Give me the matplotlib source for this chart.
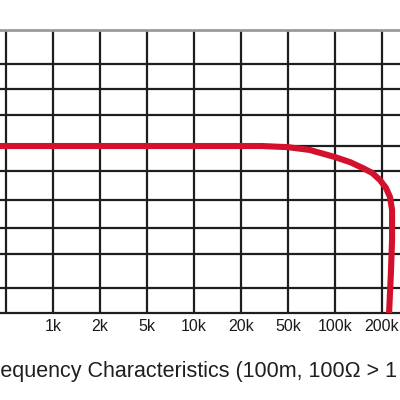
import numpy as np
import matplotlib
matplotlib.use("Agg")
import matplotlib.pyplot as plt
from matplotlib.ticker import NullLocator

# ---- data ----
tick_freqs = [500, 1000, 2000, 5000, 10000, 20000, 50000, 100000, 200000]
tick_labels = ["", "1k", "2k", "5k", "10k", "20k", "50k", "100k", "200k"]
grid_db = [4.1, 2.9, 2.0, 1.1, 0.0, -0.9, -1.9, -2.9, -3.8, -5.0, -5.9]

curve_freq = [450, 1000, 10000, 30000, 50000, 69000, 100000, 125000, 151000,
              173000, 194000, 212000, 225000, 232000, 232000, 228000, 222000]
curve_db = [0.0, 0.0, 0.0, 0.0, -0.04, -0.14, -0.39, -0.57, -0.78,
            -0.95, -1.2, -1.48, -1.8, -2.26, -3.3, -4.5, -5.9]

caption = "Frequency Characteristics (100m, 100\u03a9 > 1"

# ---- piecewise log scale (equal spacing between the 1-2-5 ticks) ----
logt = np.log10(tick_freqs)
idx = np.arange(len(tick_freqs), dtype=float)


def forward(f):
    f = np.asarray(f, dtype=float)
    lf = np.log10(np.clip(f, 1e-9, None))
    out = np.interp(lf, logt, idx)
    s0 = 1.0 / (logt[1] - logt[0])
    s1 = 1.0 / (logt[-1] - logt[-2])
    out = np.where(lf < logt[0], (lf - logt[0]) * s0, out)
    out = np.where(lf > logt[-1], idx[-1] + (lf - logt[-1]) * s1, out)
    return out


def inverse(x):
    x = np.asarray(x, dtype=float)
    lf = np.interp(x, idx, logt)
    lf = np.where(x < 0, logt[0] + x * (logt[1] - logt[0]), lf)
    lf = np.where(x > idx[-1], logt[-1] + (x - idx[-1]) * (logt[-1] - logt[-2]), lf)
    return 10 ** lf


plt.rcParams["font.family"] = ["Liberation Sans", "DejaVu Sans"]

fig = plt.figure(figsize=(4, 4), dpi=100)
ax = fig.add_axes([0.0, 87 / 400, 1.0, 283 / 400])

ax.set_xscale("function", functions=(forward, inverse))
ax.set_xlim(float(inverse(-6 / 47)), float(inverse(394 / 47)))
ax.set_ylim(grid_db[-1], grid_db[0])

ax.set_xticks(tick_freqs)
ax.set_xticklabels(tick_labels)
ax.xaxis.set_minor_locator(NullLocator())
ax.set_yticks(grid_db[1:-1])
ax.yaxis.set_minor_locator(NullLocator())
ax.tick_params(axis="y", left=False, labelleft=False)
ax.tick_params(axis="x", length=0, pad=4, labelsize=11.5, labelcolor="#1a1a1a")

ax.grid(True, which="major", color="#1e1e1e", linewidth=1.6)
ax.set_axisbelow(True)

for s in ("left", "right"):
    ax.spines[s].set_visible(False)
ax.spines["top"].set_color("#9a9a9a")
ax.spines["top"].set_linewidth(2.0)
ax.spines["bottom"].set_color("#1e1e1e")
ax.spines["bottom"].set_linewidth(1.6)

ax.plot(curve_freq, curve_db, color="#d3112c", linewidth=4.4,
        solid_joinstyle="round", solid_capstyle="butt", zorder=3)

# caption, with the leading "Fr" pushed off the left edge as in the reference
cap_size = 15.5
renderer = fig.canvas.get_renderer()
tmp = fig.text(0, 0, "Fr", fontsize=cap_size)
w = tmp.get_window_extent(renderer).width
tmp.remove()
fig.text(-w / (fig.dpi * 4), 1 - 371 / 400, caption, fontsize=cap_size,
         color="#1f1f1f", va="center", ha="left")

fig.savefig("out.png", dpi=100)
